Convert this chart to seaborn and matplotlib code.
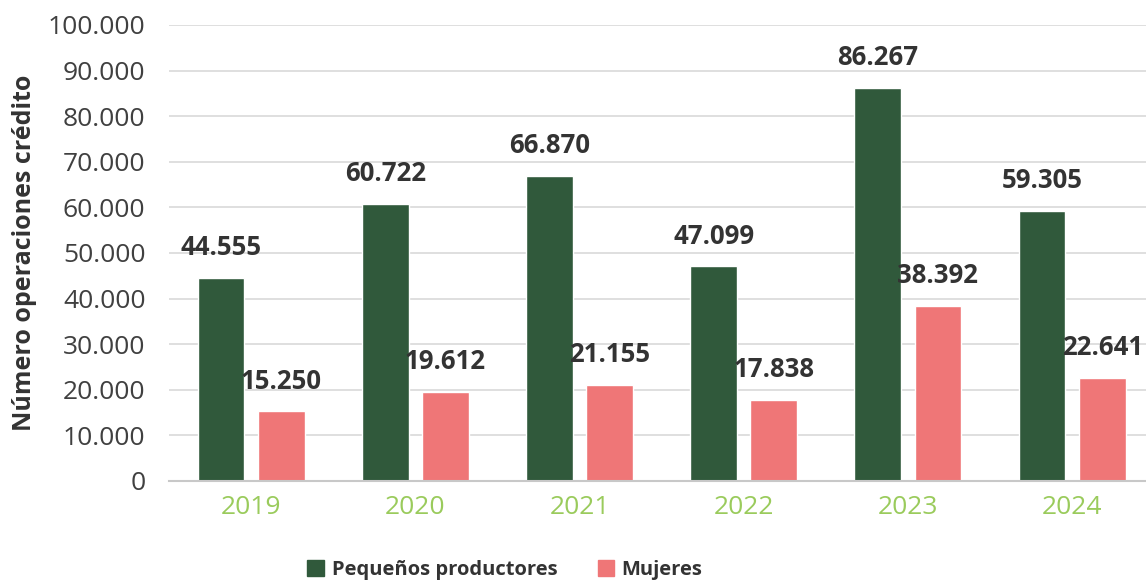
import pandas as pd
import matplotlib.pyplot as plt
import seaborn as sns

years = ['2019', '2020', '2021', '2022', '2023', '2024']
pequenos = [44555, 60722, 66870, 47099, 86267, 59305]
mujeres = [15250, 19612, 21155, 17838, 38392, 22641]
series = ['Pequeños productores', 'Mujeres']

df = pd.DataFrame({
    'Año': years * 2,
    'Valor': pequenos + mujeres,
    'Serie': [series[0]] * len(years) + [series[1]] * len(years),
})

sns.set_theme(style='white')
plt.rcParams['font.family'] = ['Open Sans', 'DejaVu Sans']

fig = plt.figure(figsize=(11.46, 5.82), dpi=100)
ax = fig.add_axes([169 / 1146, 101 / 582, 977 / 1146, 456 / 582])

palette = {'Pequeños productores': '#30593B', 'Mujeres': '#EF7677'}
sns.barplot(data=df, x='Año', y='Valor', hue='Serie', palette=palette,
            width=0.732, gap=0.22, ax=ax, legend=False, saturation=1)

def fmt(v):
    return f'{v:,.0f}'.replace(',', '.')

for cont in ax.containers:
    for bar in cont:
        h = bar.get_height()
        ax.annotate(fmt(h), (bar.get_x() + bar.get_width() / 2, h),
                    xytext=(0, 12), textcoords='offset points', ha='center', va='bottom',
                    fontsize=18.5, fontweight='bold', color='#333333')

ax.set_ylim(0, 100000)
ax.set_xlim(-0.5, 5.45)
ax.set_yticks(range(0, 100001, 10000))
ax.set_yticklabels([fmt(t) for t in range(0, 100001, 10000)], fontsize=19, color='#404040')
ax.tick_params(axis='x', colors='#9ACB5C', labelsize=19, pad=10, length=0)
ax.tick_params(axis='y', length=0, pad=17)
ax.yaxis.grid(True, color='#D9D9D9', linewidth=1.2)
ax.set_axisbelow(True)
for s in ['top', 'right', 'left']:
    ax.spines[s].set_visible(False)
ax.spines['bottom'].set_color('#C8C8C8')
ax.spines['bottom'].set_linewidth(1.5)
ax.set_xlabel('')
ax.set_ylabel('Número operaciones crédito', fontsize=18, fontweight='bold',
              color='#333333', labelpad=8)

handles = [plt.Rectangle((0, 0), 1, 1, color=palette[s]) for s in series]
fig.legend(handles, series, loc='center', bbox_to_anchor=(505 / 1146, 12 / 582), ncol=2,
           frameon=False, prop={'weight': 'bold', 'size': 14.5}, handlelength=0.8,
           handleheight=0.8, columnspacing=2.0, handletextpad=0.4, labelcolor='#333333')

fig.savefig('out.png', dpi=100)
